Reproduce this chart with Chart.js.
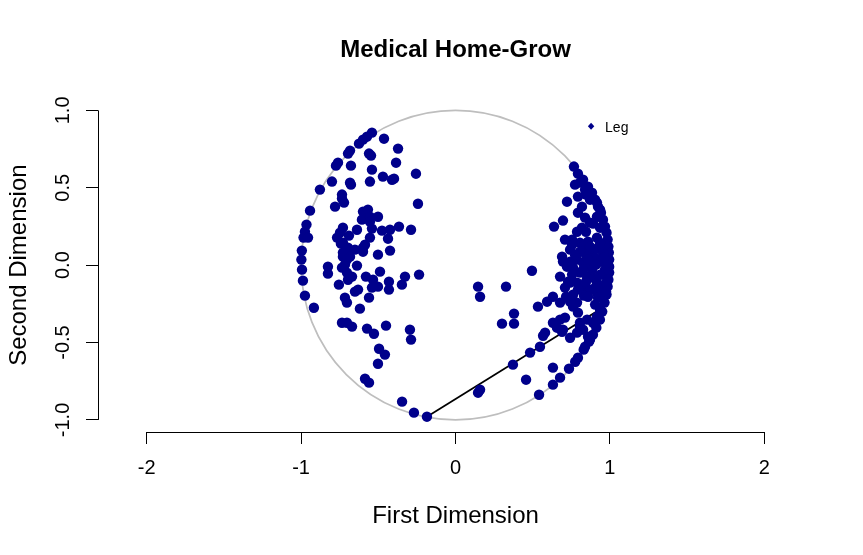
<!DOCTYPE html>
<html>
<head>
<meta charset="utf-8">
<script src="https://cdn.jsdelivr.net/npm/chart.js@4.4.1/dist/chart.umd.min.js"></script>
<style>
    html, body { margin: 0; padding: 0; background: #fff; }
</style>
</head>
<body>
<canvas id="homegrow" width="863" height="555"></canvas>
<script>
// legislator ideal points (first / second dimension)
const firstDim = [
    -0.541, -0.573, -0.599, -0.625, -0.463, -0.372, -0.683, -0.696, -0.560, -0.547,
    -0.385, -0.761, -0.774, -0.677, -0.541, -0.256, -0.470, -0.411, -0.398, -0.800,
    -0.683, -0.677, -0.554, -0.878, -0.735, -0.735, -0.722, -0.780, -0.243, -0.942,
    -0.599, -0.567, -0.606, -0.554, -0.502, -0.554, -0.638, -0.965, -0.975, -0.984,
    -0.955, -0.541, -0.476, -0.424, -0.366, -0.288, -0.748, -0.767, -0.729, -0.696,
    -0.651, -0.599, -0.554, -0.437, -0.424, -0.502, -0.995, -0.998, -0.994, -0.729,
    -0.716, -0.735, -0.703, -0.670, -0.696, -0.638, -0.826, -0.826, -0.580, -0.534,
    -0.489, -0.502, -0.541, -0.560, -0.431, -0.431, -0.327, -0.347, -0.236, -0.988,
    -0.755, -0.651, -0.631, -0.975, -0.716, -0.703, -0.917, -0.619, -0.735, -0.703,
    -0.670, -0.573, -0.528, -0.450, -0.295, -0.288, -0.495, -0.457, -0.502, -0.586,
    -0.560, -0.346, -0.269, -0.185, -0.742, -0.703, -0.729, -0.683, -0.703, -0.586, -0.599,
    -0.729, -0.690,
    0.767, 0.793, 0.826, 0.858, 0.884, 0.904, 0.923, 0.942, 0.955, 0.968,
    0.978, 0.985, 0.990, 0.993, 0.995, 0.995, 0.995, 0.990, 0.985, 0.978,
    0.965, 0.950, 0.935, 0.912, 0.890, 0.865, 0.839, 0.871, 0.830, 0.793,
    0.775, 0.735, 0.677, 0.631, 0.541, 0.631, 0.457, 0.372, 0.547, 0.483,
    0.567, 0.742, 0.657, 0.690, 0.677, 0.709, 0.534, 0.379, 0.379, 0.301,
    0.327, 0.495, 0.146, 0.159, 0.159, 0.146, 0.774, 0.722, 0.696, 0.638,
    0.793, 0.819, 0.793, 0.839, 0.871, 0.819, 0.787, 0.916, 0.936, 0.916,
    0.891, 0.858, 0.806, 0.916, 0.923, 0.955, 0.891, 0.826, 0.742, 0.690,
    0.722, 0.677, 0.787, 0.826, 0.871, 0.806, 0.852, 0.891, 0.949, 0.968,
    0.981, 0.787, 0.826, 0.871, 0.916, 0.955, 0.975, 0.709, 0.631, 0.593,
    0.677, 0.761, 0.787, 0.793, 0.761, 0.923, 0.949, 0.631, 0.580, 0.696,
    0.806, 0.826, 0.858, 0.891, 0.916, 0.936, 0.787, 0.716, 0.742, 0.852,
    0.806, 0.904, 0.936, 0.845, 0.761, 0.916, 0.884, 0.806, 0.968, 0.936,
    0.845, 0.755, 0.742, 0.871, 0.839, 0.729, 0.832, 0.904,
    0.755, 0.774, 0.858, 0.910, 0.936, 0.845, 0.904, 0.755, 0.793, 0.871,
    0.936, 0.962, 0.826, 0.742, 0.975, 0.709, 0.696, 0.858, 0.923, 0.806,
    0.845,
]
const secondDim = [
    0.856, 0.830, 0.811, 0.785, 0.817, 0.753, 0.740, 0.721, 0.721, 0.708,
    0.662, 0.662, 0.643, 0.643, 0.617, 0.591, 0.572, 0.552, 0.559, 0.540,
    0.533, 0.520, 0.540, 0.488, 0.456, 0.430, 0.404, 0.378, 0.397, 0.352,
    0.346, 0.359, 0.294, 0.313, 0.313, 0.281, 0.229, 0.262, 0.216, 0.178,
    0.178, 0.236, 0.223, 0.229, 0.249, 0.229, 0.210, 0.178, 0.145, 0.113,
    0.100, 0.113, 0.178, 0.171, 0.094, 0.068, 0.094, 0.036, -0.029, 0.055,
    0.003, -0.016, -0.048, -0.074, -0.094, -0.003, -0.010, -0.055, -0.074, -0.094,
    -0.042, -0.139, -0.145, -0.210, -0.107, -0.158, -0.074, -0.126, -0.061, -0.100,
    -0.126, -0.171, -0.158, -0.197, -0.210, -0.242, -0.275, -0.281, -0.372, -0.372,
    -0.397, -0.410, -0.443, -0.391, -0.417, -0.481, -0.540, -0.578, -0.637, -0.734,
    -0.759, -0.882, -0.953, -0.979, 0.139, 0.100, 0.081, 0.055, 0.036, 0.132, 0.087,
    0.242, 0.191,
    0.637, 0.591, 0.552, 0.507, 0.468, 0.423, 0.378, 0.339, 0.294, 0.249,
    0.210, 0.165, 0.120, 0.081, 0.036, -0.010, -0.048, -0.094, -0.139, -0.190,
    -0.242, -0.300, -0.352, -0.404, -0.449, -0.494, -0.527, -0.481, -0.546, -0.598,
    -0.624, -0.669, -0.727, -0.772, -0.837, -0.662, -0.740, -0.643, -0.527, -0.565,
    -0.456, -0.469, -0.404, -0.430, -0.352, -0.339, -0.268, -0.313, -0.378, -0.378,
    -0.139, -0.036, -0.139, -0.204, -0.805, -0.824, 0.520, 0.410, 0.288, 0.249,
    0.443, 0.378, 0.339, 0.307, 0.275, 0.242, 0.216, 0.404, 0.359, 0.313,
    0.268, 0.152, 0.145, 0.178, 0.113, 0.081, 0.087, 0.120, 0.100, 0.055,
    -0.010, -0.074, 0.036, 0.016, -0.010, -0.048, -0.074, -0.081, -0.061, -0.029,
    0.016, -0.113, -0.139, -0.158, -0.178, -0.139, -0.113, -0.145, -0.204, -0.236,
    -0.242, -0.191, -0.242, -0.307, -0.268, -0.210, -0.171, -0.372, -0.436, -0.417,
    -0.372, -0.417, -0.462, -0.372, -0.333, -0.288, -0.436, -0.204, -0.236, -0.352,
    -0.397, 0.048, 0.023, 0.068, -0.016, -0.113, -0.029, 0.087, 0.132, 0.242,
    0.216, 0.165, 0.023, 0.423, 0.488, -0.107, -0.197, -0.255,
    0.132, 0.068, 0.036, 0.003, -0.061, -0.107, -0.145, -0.061, -0.158, 0.120,
    0.145, 0.048, -0.029, -0.113, -0.171, 0.165, 0.023, -0.204, -0.339, 0.533,
    0.456,
]
// cutting line end points
const cutX = [-0.185, 0.914]
const cutY = [-0.979, -0.299]

const xTicks = [-2, -1, 0, 1, 2]
const xTickLabels = ['-2', '-1', '0', '1', '2']
const yTicks = [-1, -0.5, 0, 0.5, 1]
const yTickLabels = ['-1.0', '-0.5', '0.0', '0.5', '1.0']

const FONT = '"Liberation Sans", Arial, sans-serif'
Chart.defaults.font.family = FONT
Chart.defaults.color = '#000'

// unit circle, R style axis lines and the small legend
const rPlot = {
    id: 'rPlot',
    beforeDatasetsDraw(chart) {
        const { ctx, scales: { x, y } } = chart
        const cx = x.getPixelForValue(0),
            cy = y.getPixelForValue(0),
            rx = x.getPixelForValue(1) - cx,
            ry = cy - y.getPixelForValue(1)
        ctx.save()
        ctx.strokeStyle = '#bebebe'
        ctx.lineWidth = 1.7
        ctx.beginPath()
        ctx.ellipse(cx, cy, rx, ry, 0, 0, Math.PI * 2)
        ctx.stroke()
        ctx.restore()
    },
    afterDraw(chart) {
        const { ctx, chartArea, scales: { x, y } } = chart
        const bottom = Math.round(chartArea.bottom) + 0.5,
            left = Math.round(chartArea.left) + 0.5
        ctx.save()
        ctx.strokeStyle = '#000'
        ctx.lineWidth = 1
        ctx.beginPath()
        ctx.moveTo(x.getPixelForValue(xTicks[0]), bottom)
        ctx.lineTo(x.getPixelForValue(xTicks[xTicks.length - 1]), bottom)
        ctx.moveTo(left, y.getPixelForValue(yTicks[0]))
        ctx.lineTo(left, y.getPixelForValue(yTicks[yTicks.length - 1]))
        ctx.stroke()

        const lx = x.getPixelForValue(0.878),
            ly = y.getPixelForValue(0.897)
        ctx.fillStyle = '#00008b'
        ctx.beginPath()
        ctx.moveTo(lx, ly - 3.5)
        ctx.lineTo(lx + 3.2, ly)
        ctx.lineTo(lx, ly + 3.5)
        ctx.lineTo(lx - 3.2, ly)
        ctx.closePath()
        ctx.fill()
        ctx.fillStyle = '#000'
        ctx.font = '14px ' + FONT
        ctx.textBaseline = 'middle'
        ctx.fillText('Leg', lx + 14, ly + 1.5)
        ctx.restore()
    },
}

const tickGrid = {
    display: true,
    drawOnChartArea: false,
    drawTicks: true,
    tickLength: 12,
    color: '#000',
    lineWidth: 1,
}

new Chart(document.getElementById('homegrow'), {
    type: 'scatter',
    data: {
        datasets: [
            {
                label: 'Leg',
                data: firstDim.map((v, i) => ({ x: v, y: secondDim[i] })),
                backgroundColor: '#00008b',
                borderWidth: 0,
                pointRadius: 5.2,
                order: 0,
            },
            {
                type: 'line',
                data: cutX.map((v, i) => ({ x: v, y: cutY[i] })),
                borderColor: '#000',
                borderWidth: 1.7,
                pointRadius: 0,
                showLine: true,
                order: 1,
            },
        ],
    },
    options: {
        responsive: false,
        animation: false,
        events: [],
        layout: { padding: { left: 0, right: 50, top: 0, bottom: 0 } },
        plugins: {
            legend: { display: false },
            tooltip: { enabled: false },
            title: {
                display: true,
                text: 'Medical Home-Grow',
                fullSize: false,
                color: '#000',
                font: { size: 24, weight: 'bold', family: FONT },
                padding: { top: 36, bottom: 33.5 },
            },
        },
        scales: {
            x: {
                type: 'linear',
                min: -2.315,
                max: 2.315,
                afterBuildTicks: (s) => {
                    s.ticks = xTicks.map((v) => ({ value: v }))
                },
                afterFit: (s) => {
                    s.height = 123
                },
                ticks: {
                    callback: (v, i) => xTickLabels[i],
                    font: { size: 20 },
                    padding: 12,
                    maxRotation: 0,
                    autoSkip: false,
                },
                grid: tickGrid,
                border: { display: false },
                title: {
                    display: true,
                    text: 'First Dimension',
                    font: { size: 24 },
                    padding: { top: 0, bottom: 24 },
                },
            },
            y: {
                type: 'linear',
                min: -1.078,
                max: 1.078,
                afterBuildTicks: (s) => {
                    s.ticks = yTicks.map((v) => ({ value: v }))
                },
                afterFit: (s) => {
                    s.width = 98
                },
                ticks: {
                    callback: (v, i) => yTickLabels[i],
                    font: { size: 20 },
                    padding: 5,
                    minRotation: 90,
                    maxRotation: 90,
                    crossAlign: 'center',
                    autoSkip: false,
                },
                grid: tickGrid,
                border: { display: false },
                title: {
                    display: true,
                    text: 'Second Dimension',
                    font: { size: 24 },
                    padding: { top: 5, bottom: 0 },
                },
            },
        },
    },
    plugins: [rPlot],
})
</script>
</body>
</html>
